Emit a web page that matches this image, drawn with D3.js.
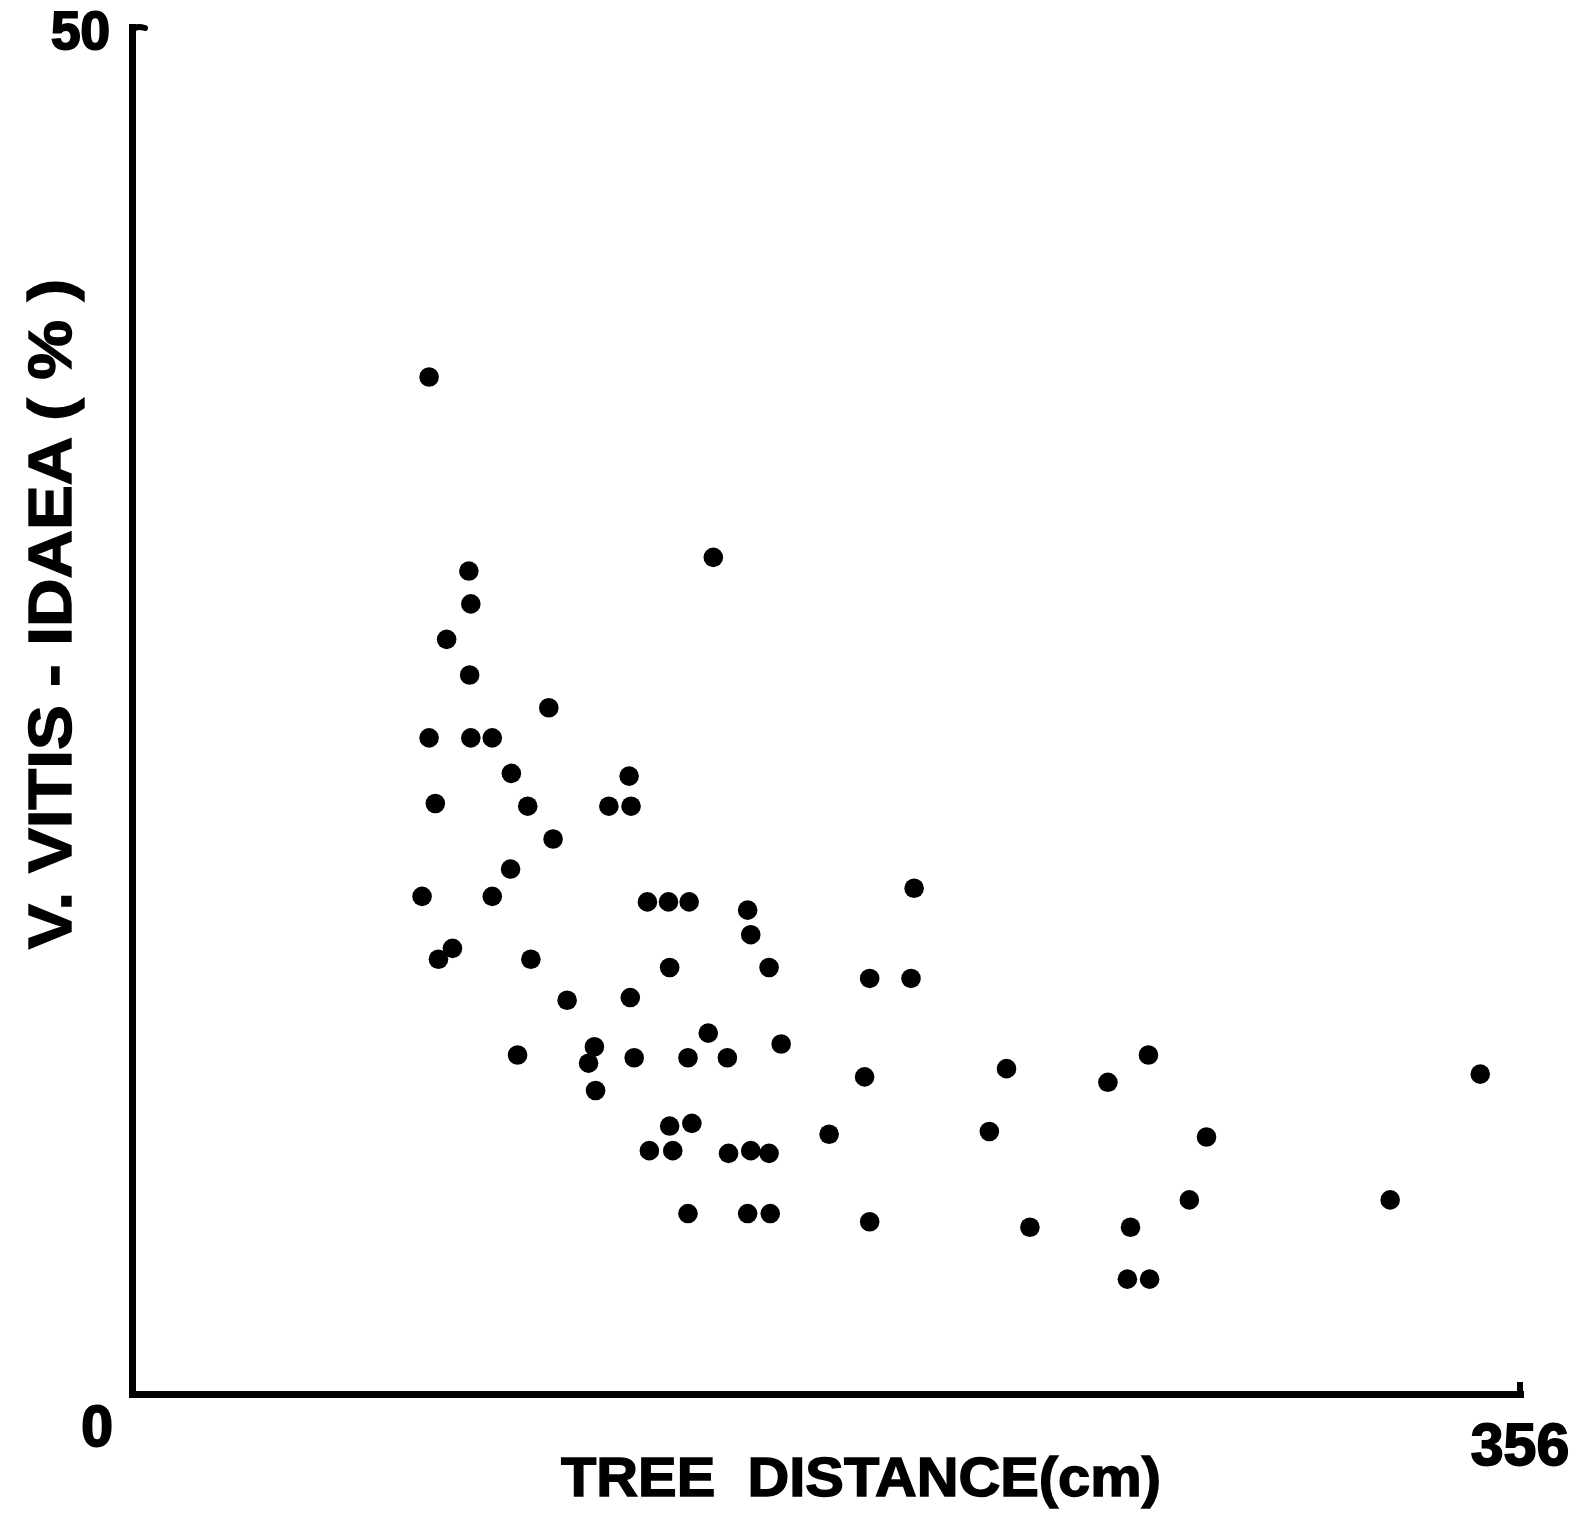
<!DOCTYPE html>
<html>
<head>
<meta charset="utf-8">
<script src="https://cdn.jsdelivr.net/npm/d3@7"></script>
<style>
  html, body { margin: 0; padding: 0; background: #fff; }
  svg { display: block; }
  text { font-family: "Liberation Sans", Arial, Helvetica, sans-serif; font-weight: bold; fill: #000; white-space: pre; }
</style>
</head>
<body>
<svg id="chart" width="1591" height="1515"></svg>
<script>
// Tree distance (cm)
const treeDistance = [76.2,149.1,86.4,86.9,80.7,86.6,106.9,76.2,86.9,92.4,97.3,77.8,101.5,127.5,122.3,128.0,108.0,97.1,74.4,92.4,132.2,137.6,142.9,157.9,158.7,200.6,78.6,82.2,102.3,137.9,163.4,189.2,199.8,111.6,127.8,147.8,166.5,118.6,98.9,117.1,128.8,142.6,152.7,260.7,224.3,187.9,250.3,345.8,118.9,137.9,143.6,132.7,138.7,153.0,158.7,163.4,178.8,219.9,275.6,142.6,157.9,163.7,189.2,230.3,256.1,271.2,322.7,255.3,261.0];
// V. vitis-idaea cover (%)
const vitisCover = [37.2,30.6,30.1,28.9,27.6,26.3,25.1,24.0,24.0,24.0,22.7,21.6,21.5,22.6,21.5,21.5,20.3,19.2,18.2,18.2,18.0,18.0,18.0,17.7,16.8,18.5,15.9,16.3,15.9,15.6,15.6,15.2,15.2,14.4,14.5,13.2,12.8,12.7,12.4,12.1,12.3,12.3,12.3,12.4,11.9,11.6,11.4,11.7,11.1,9.8,9.9,8.9,8.9,8.8,8.9,8.8,9.5,9.6,9.4,6.6,6.6,6.6,6.3,6.1,6.1,7.1,7.1,4.2,4.2];
const xDomain = [0, 356];
const yDomain = [0, 50];
const yTickLabels = ["50", "0"];
const xTickLabels = ["356"];
const xTitle = "TREE  DISTANCE(cm)";
const yTitle = "V. VITIS - IDAEA ( % )";

const svg = d3.select("#chart");
const x = d3.scaleLinear().domain(xDomain).range([132, 1520]);
const y = d3.scaleLinear().domain(yDomain).range([1394, 27]);

const axisW = 7;
// axes
svg.append("g").attr("transform", `translate(0,${y(0)})`)
  .call(d3.axisBottom(x).tickValues([]).tickSizeOuter(0))
  .call(g => g.select(".domain").attr("stroke", "#000").attr("stroke-width", axisW).attr("stroke-linecap", "square"));
svg.append("g").attr("transform", `translate(${x(0)},0)`)
  .call(d3.axisLeft(y).tickValues([]).tickSizeOuter(0))
  .call(g => g.select(".domain").attr("stroke", "#000").attr("stroke-width", axisW).attr("stroke-linecap", "square"));

// small hook at top of y axis and end tick at right of x axis
svg.append("path")
  .attr("d", `M${x(0)},${y(50) + 8} Q${x(0)},${y(50) - 3} ${x(0) + 13},${y(50) + 1}`)
  .attr("fill", "none").attr("stroke", "#000").attr("stroke-width", 6).attr("stroke-linecap", "round");
svg.append("line")
  .attr("x1", x(356)).attr("x2", x(356)).attr("y1", y(0) + 2).attr("y2", y(0) - 12)
  .attr("stroke", "#000").attr("stroke-width", 6);

// tick labels
svg.append("text").text(yTickLabels[0])
  .attr("x", x(0) - 22).attr("y", y(50) + 22).attr("text-anchor", "end")
  .attr("font-size", 53).attr("stroke", "#000").attr("stroke-width", 2);
svg.append("text").text(yTickLabels[1])
  .attr("x", x(0) - 19).attr("y", y(0) + 52).attr("text-anchor", "end")
  .attr("font-size", 57).attr("stroke", "#000").attr("stroke-width", 2);
svg.append("text").text(xTickLabels[0])
  .attr("x", x(356)).attr("y", y(0) + 71).attr("text-anchor", "middle")
  .attr("font-size", 59).attr("stroke", "#000").attr("stroke-width", 1.8);

// axis titles
svg.append("text").text(xTitle)
  .attr("x", 561).attr("y", 1496)
  .attr("font-size", 56).attr("textLength", 600).attr("lengthAdjust", "spacingAndGlyphs")
  .attr("stroke", "#000").attr("stroke-width", 1.4);
svg.append("text").text(yTitle)
  .attr("transform", "translate(71,949) rotate(-90)")
  .attr("font-size", 62).attr("textLength", 670).attr("lengthAdjust", "spacingAndGlyphs")
  .attr("stroke", "#000").attr("stroke-width", 1.4);

// points
svg.append("g").selectAll("circle")
  .data(treeDistance.map((d, i) => [d, vitisCover[i]]))
  .join("circle")
  .attr("cx", d => x(d[0]))
  .attr("cy", d => y(d[1]))
  .attr("r", 9.8)
  .attr("fill", "#000");
</script>
</body>
</html>
